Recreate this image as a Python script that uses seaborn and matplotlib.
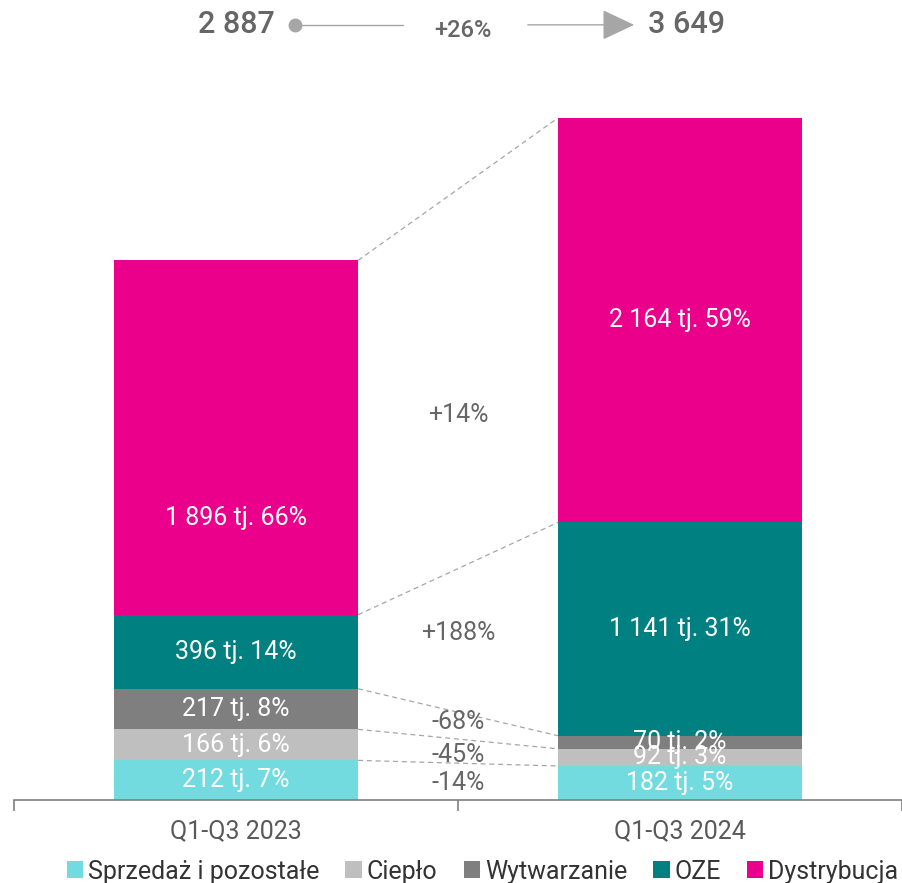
import matplotlib
matplotlib.use("Agg")
import matplotlib.pyplot as plt
from matplotlib.patches import Patch
import pandas as pd
import seaborn as sns

sns.set_theme(style="white")
plt.rcParams['font.family'] = ['Roboto', 'DejaVu Sans']

## Data ##
periods = ["Q1-Q3 2023", "Q1-Q3 2024"]
segments = ["Sprzedaż i pozostałe", "Ciepło", "Wytwarzanie", "OZE", "Dystrybucja"]
values_2023 = [212, 166, 217, 396, 1896]
values_2024 = [182, 92, 70, 1141, 2164]
shares_2023 = [7, 6, 8, 14, 66]
shares_2024 = [5, 3, 2, 31, 59]
changes = ["-14%", "-45%", "-68%", "+188%", "+14%"]
total_change = "+26%"
colors = ["#72dbe0", "#bfbfbf", "#7f7f7f", "#008080", "#ea008b"]

# label heights (data units) for the change labels between the bars
change_y = [91, 241, 417, 893, 2060]
# where inside a segment the value label sits (0 = bottom, 1 = top)
label_frac_2023 = [0.5, 0.5, 0.5, 0.5, 0.273]
label_frac_2024 = [0.5, 0.5, 0.5, 0.5, 0.5]

TXT = "#666666"
LINE = "#a6a6a6"


def fmt(v):
    return "{:,}".format(v).replace(",", " ")


rows = []
for p, vals, shs, fr in [(periods[0], values_2023, shares_2023, label_frac_2023),
                         (periods[1], values_2024, shares_2024, label_frac_2024)]:
    cum = 0
    for s, v, sh, f in zip(segments, vals, shs, fr):
        rows.append({"period": p, "segment": s, "value": v, "share": sh,
                     "bottom": cum, "top": cum + v, "frac": f})
        cum += v
df = pd.DataFrame(rows)

fig = plt.figure(figsize=(9.02, 8.83), dpi=100)
ax = fig.add_axes([14 / 902, 83 / 883, 888 / 902, 800 / 883])

# stacked bars: draw cumulative tops, largest first
bw = 0.55
for seg, col in reversed(list(zip(segments, colors))):
    sub = df[df.segment == seg]
    sns.barplot(data=sub, x="period", y="top", order=periods, color=col,
                width=bw, saturation=1, ax=ax, linewidth=0)

# segment labels
for i, p in enumerate(periods):
    for _, r in df[df.period == p].iterrows():
        ax.text(i, r.bottom + r.frac * r.value, "{} tj. {}%".format(fmt(r.value), r.share),
                ha="center", va="center", color="white", fontsize=18)

# dashed connectors between bars
d23 = df[df.period == periods[0]].reset_index(drop=True)
d24 = df[df.period == periods[1]].reset_index(drop=True)
for k in range(len(segments)):
    ax.plot([bw / 2, 1 - bw / 2], [d23.top[k], d24.top[k]], ls=(0, (4, 3)),
            color=LINE, lw=0.9, zorder=1)

# change labels between bars
for k in range(len(segments)):
    ax.text(0.5, change_y[k], changes[k], ha="center", va="center", color=TXT,
            fontsize=18, zorder=3)

# totals header
tot23 = sum(values_2023)
tot24 = sum(values_2024)
ytop = 4147
ax.text(0.088, ytop, fmt(tot23), ha="right", va="center", color=TXT,
        fontsize=22, fontweight="medium")
ax.plot([0.133], [ytop], marker="o", ms=9, color=LINE)
ax.plot([0.133, 0.376], [ytop, ytop], color=LINE, lw=1)
ax.text(0.511, ytop - 30, total_change, ha="center", va="center", color=TXT,
        fontsize=17, fontweight="medium")
ax.annotate("", xy=(0.903, ytop), xytext=(0.651, ytop),
            arrowprops=dict(arrowstyle="-|>,head_length=1.7,head_width=0.8",
                            color=LINE, lw=1))
ax.text(0.928, ytop, fmt(tot24), ha="left", va="center", color=TXT,
        fontsize=22, fontweight="medium")

ax.set_xlim(-0.5, 1.5)
ax.set_ylim(0, 4280)
ax.set_xlabel("")
ax.set_ylabel("")
ax.set_yticks([])
sns.despine(ax=ax, left=True, top=True, right=True)
ax.spines["bottom"].set_color("#7f7f7f")
ax.spines["bottom"].set_linewidth(1.2)
ax.set_xticks([-0.5, 0.5, 1.5], minor=True)
ax.tick_params(axis="x", which="minor", length=8, width=1.2, color="#7f7f7f", bottom=True)
ax.tick_params(axis="x", which="major", length=0, pad=14, labelsize=18, labelcolor="#595959")

handles = [Patch(facecolor=c, edgecolor="none") for c in colors]
fig.legend(handles, segments, loc="center", bbox_to_anchor=(0.535, 0.013), ncol=5,
           frameon=False, fontsize=18, handlelength=0.65, handleheight=0.65,
           handletextpad=0.2, columnspacing=1.05, borderaxespad=0,
           labelcolor="#333333")

fig.savefig("out.png", dpi=100)
